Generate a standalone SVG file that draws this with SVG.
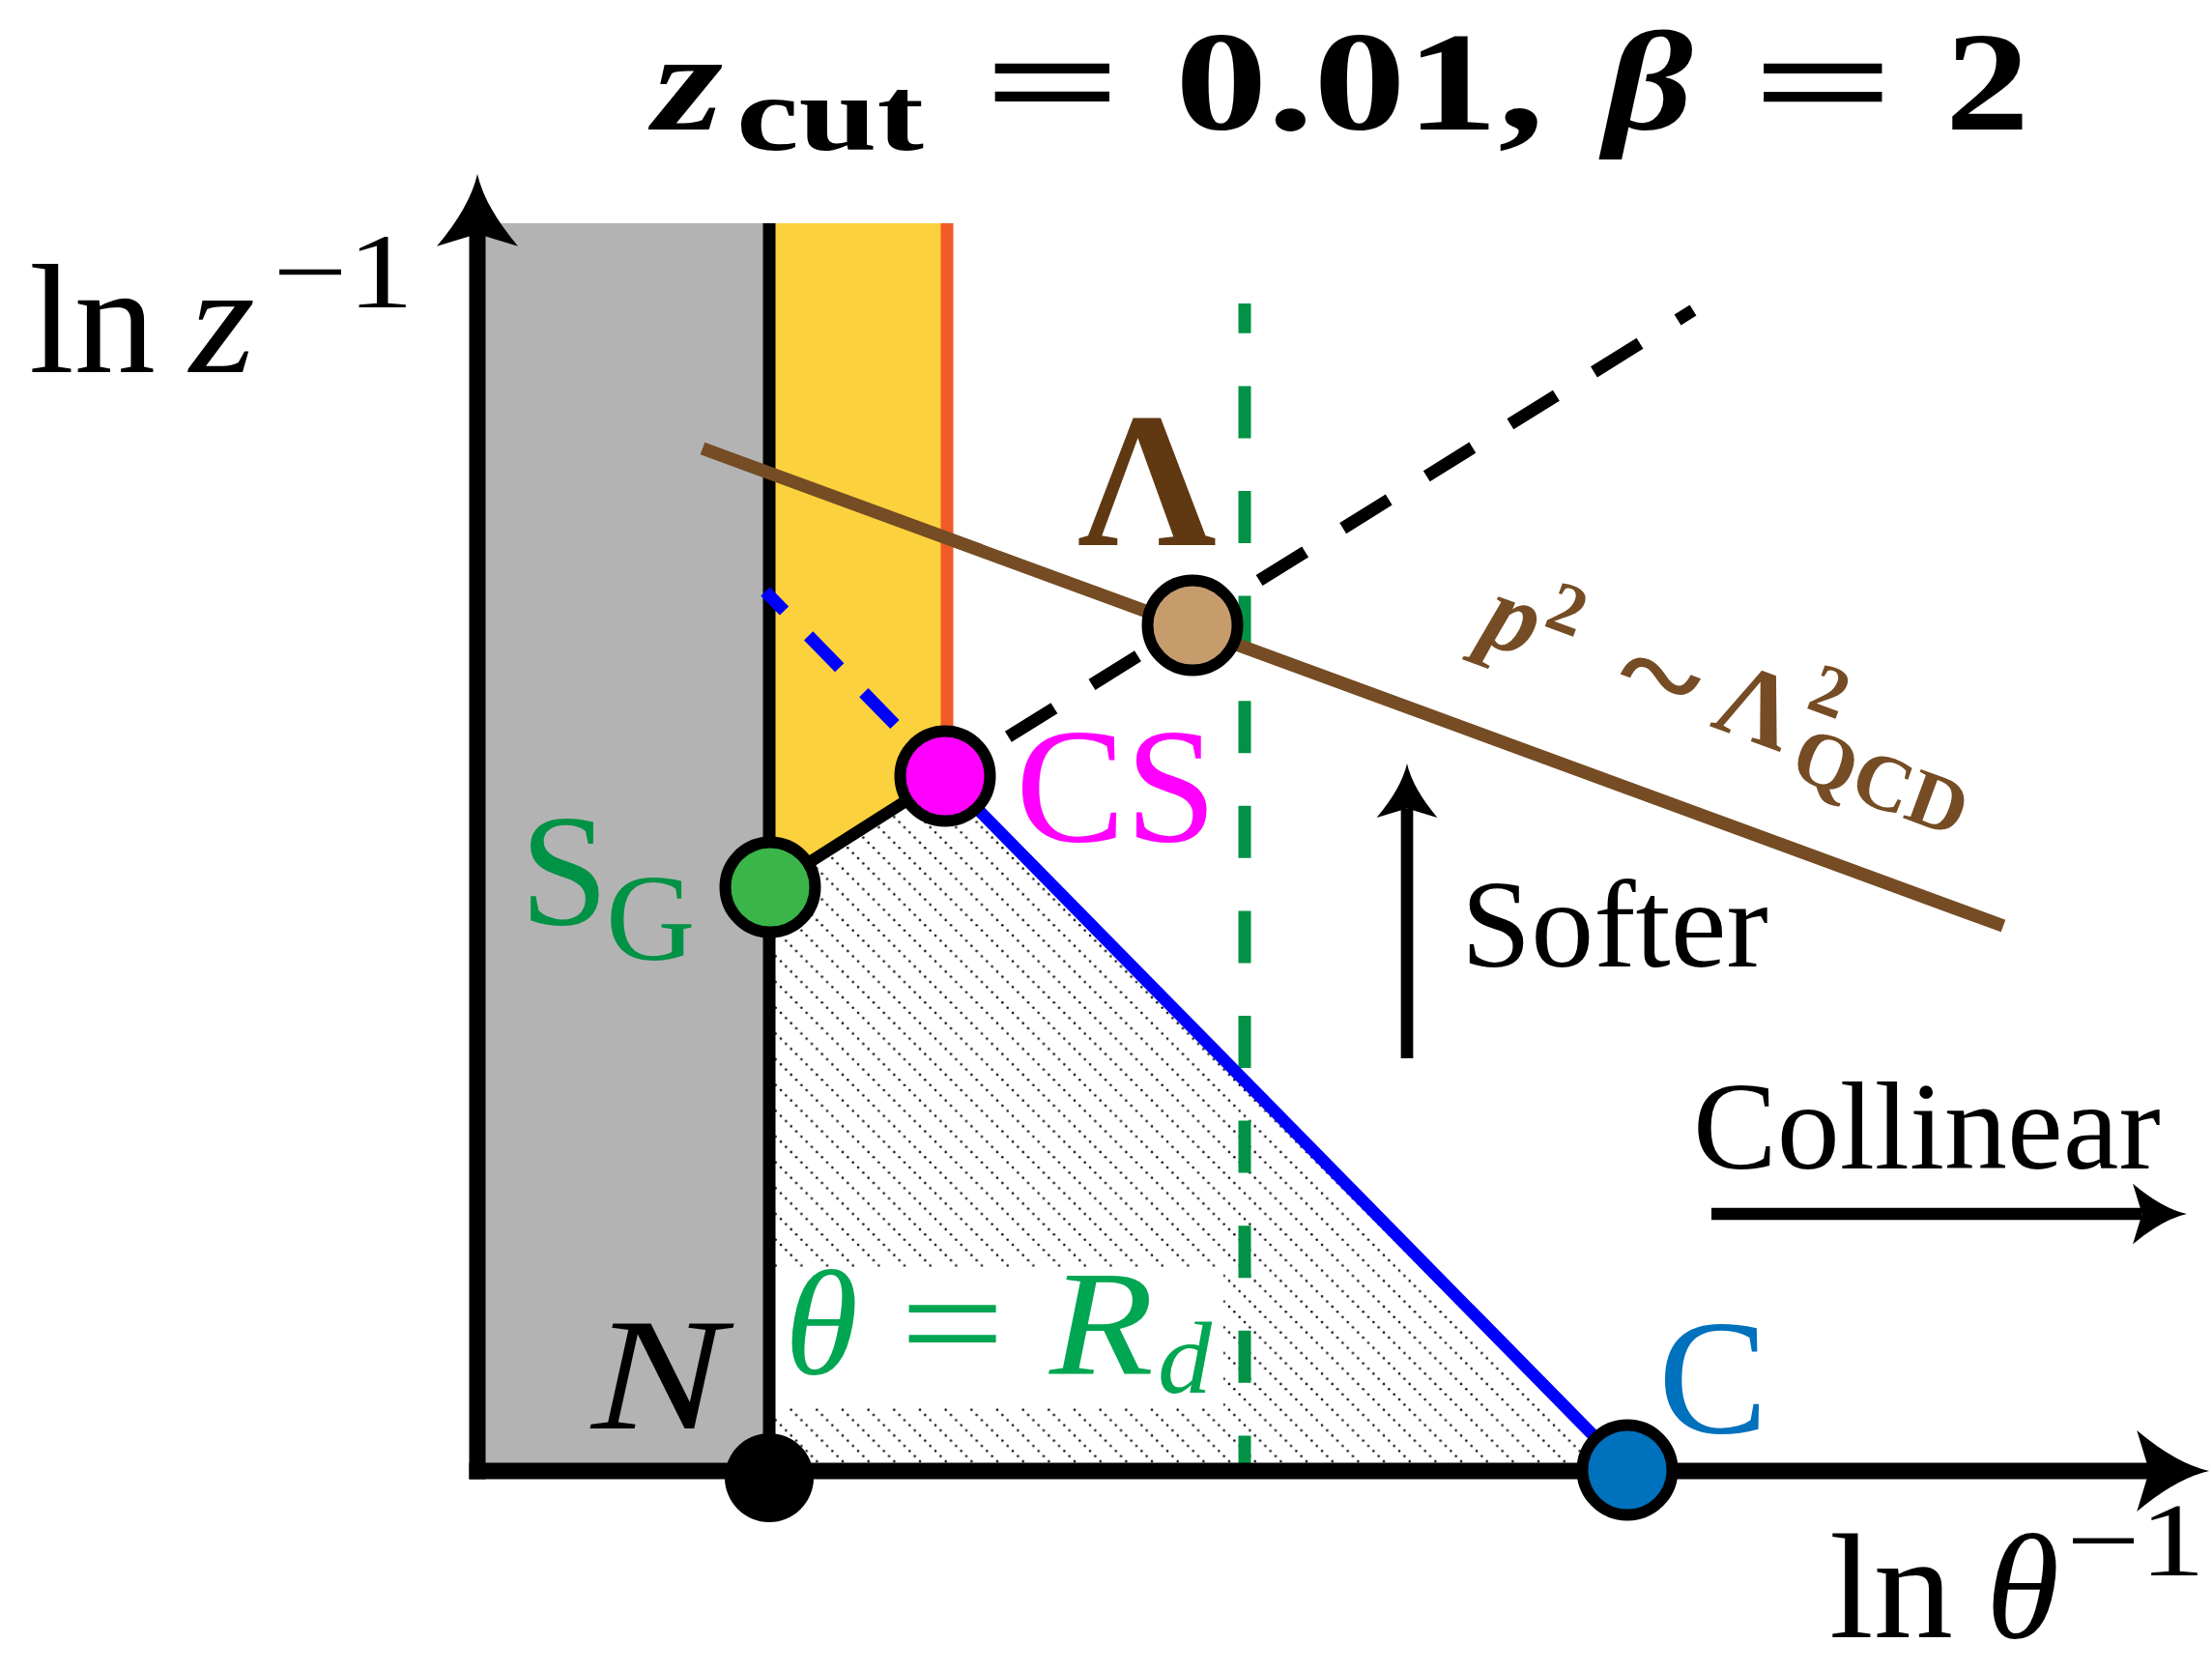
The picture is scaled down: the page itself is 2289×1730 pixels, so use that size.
<svg xmlns="http://www.w3.org/2000/svg" width="2289" height="1730" viewBox="0 0 2289 1730">
<defs>
<style>
text{font-family:"Liberation Serif","Times New Roman",serif;}
.it{font-style:italic}
.bf{font-weight:bold}
.node{stroke:#000;stroke-width:12}
.ax{stroke:#000;stroke-width:17;fill:none}
.arr{stroke:#000;stroke-width:12.7;fill:none}
</style>
<marker id="head" markerUnits="strokeWidth" viewBox="0 -2.6 4.5 5.2" refX="0.75" refY="0" markerWidth="4.5" markerHeight="5.2" orient="auto">
<path d="M4.4,0 Q2.4,-0.45 0,-2.47 L0.75,0 L0,2.47 Q2.4,0.45 4.4,0 Z" fill="#000"/>
</marker>
<pattern id="hatch" patternUnits="userSpaceOnUse" width="26.667" height="26.667">
<circle cx="2.67" cy="2.67" r="1.3" fill="#111"/>
<circle cx="8" cy="8" r="1.3" fill="#111"/>
<circle cx="13.33" cy="13.33" r="1.3" fill="#111"/>
<circle cx="18.67" cy="18.67" r="1.3" fill="#111"/>
<circle cx="24" cy="24" r="1.3" fill="#111"/>
</pattern>
</defs>
<rect width="2289" height="1730" fill="#fff"/>

<g id="regions">
<rect x="494" y="231" width="302" height="1291" fill="#B3B3B3"/>
<polygon points="796,231 980,231 980,803 796,918" fill="#FBD13D"/>
<polygon points="802,918 978,803 1684,1521 802,1521" fill="url(#hatch)"/>
<rect x="802" y="1312" width="464" height="143" fill="#fff"/>
</g>

<g id="connectors">
<line x1="980" y1="231" x2="980" y2="803" stroke="#F15A29" stroke-width="13"/>
<line x1="796" y1="231" x2="796" y2="1522" stroke="#000" stroke-width="13"/>
<line x1="1288" y1="314" x2="1288" y2="1516" stroke="#009245" stroke-width="13" stroke-dasharray="54 54.6" stroke-dashoffset="23.2"/>
<line x1="727" y1="464" x2="2073" y2="958" stroke="#754C24" stroke-width="13.5"/>
<line x1="792" y1="612" x2="978" y2="803" stroke="#0000FF" stroke-width="13" stroke-dasharray="46 36" stroke-dashoffset="18"/>
<line x1="978" y1="803" x2="1752" y2="321" stroke="#000" stroke-width="13" stroke-dasharray="56 46" stroke-dashoffset="25"/>
<line x1="978" y1="803" x2="1684" y2="1521" stroke="#0000FF" stroke-width="12.5"/>
<line x1="797" y1="918" x2="978" y2="803" stroke="#000" stroke-width="12.5"/>
<line class="ax" x1="494" y1="1530.5" x2="494" y2="242" marker-end="url(#head)"/>
<line class="ax" x1="485.5" y1="1522" x2="2224" y2="1522" marker-end="url(#head)"/>
<line class="arr" x1="1456" y1="1095" x2="1456" y2="836.4" marker-end="url(#head)"/>
<line class="arr" x1="1771" y1="1256" x2="2216.6" y2="1256" marker-end="url(#head)"/>
</g>

<g id="node-N">
<circle cx="796" cy="1529" r="46" fill="#000"/>
<text x="612" y="1478" font-size="165" class="it" textLength="138" lengthAdjust="spacingAndGlyphs">N</text>
</g>
<g id="node-SG">
<circle class="node" cx="797" cy="918" r="46.5" fill="#39B54A"/>
<text x="538" y="956" font-size="165" fill="#009245">S</text>
<text x="627" y="993" font-size="128" fill="#009245">G</text>
</g>
<g id="node-CS">
<circle class="node" cx="978" cy="803" r="46.5" fill="#FF00FF"/>
<text x="1051" y="870" font-size="170" fill="#FF00FF">CS</text>
</g>
<g id="node-Lambda">
<circle class="node" cx="1234" cy="647" r="46.5" fill="#C69C6D"/>
<text x="1187" y="564" font-size="200" class="bf" text-anchor="middle" fill="#603913">Λ</text>
</g>
<g id="node-C">
<circle class="node" cx="1684" cy="1521" r="46.5" fill="#0071BC"/>
<text x="1716" y="1482" font-size="170" fill="#0071BC">C</text>
</g>

<g id="labels">
<g class="bf" font-size="146">
<text x="676" y="134" class="it" textLength="72" lengthAdjust="spacingAndGlyphs">z</text>
<text x="762" y="155" font-size="110" textLength="194" lengthAdjust="spacingAndGlyphs">cut</text>
<text x="1017" y="134" textLength="145" lengthAdjust="spacingAndGlyphs">=</text>
<text x="1216" y="134" textLength="382" lengthAdjust="spacingAndGlyphs">0.01,</text>
<text x="1660" y="134" class="it" textLength="92" lengthAdjust="spacingAndGlyphs">β</text>
<text x="1812" y="134" textLength="150" lengthAdjust="spacingAndGlyphs">=</text>
<text x="2013" y="134" textLength="87" lengthAdjust="spacingAndGlyphs">2</text>
</g>
<text x="30" y="385" font-size="162" textLength="131" lengthAdjust="spacingAndGlyphs">ln</text>
<text x="196" y="385" font-size="160" class="it" textLength="68" lengthAdjust="spacingAndGlyphs">z</text>
<text x="282" y="318" font-size="110" textLength="146" lengthAdjust="spacingAndGlyphs">−1</text>
<text x="1893" y="1694" font-size="155" textLength="128" lengthAdjust="spacingAndGlyphs">ln</text>
<text x="2055" y="1694" font-size="155" class="it">θ</text>
<text x="2138" y="1630" font-size="108" textLength="144" lengthAdjust="spacingAndGlyphs">−1</text>
<g fill="#00A651">
<text x="812" y="1421" font-size="155" class="it">θ</text>
<text x="931" y="1421" font-size="155" textLength="109" lengthAdjust="spacingAndGlyphs">=</text>
<text x="1086" y="1421" font-size="155" class="it" textLength="108" lengthAdjust="spacingAndGlyphs">R</text>
<text x="1198" y="1441" font-size="105" class="it" textLength="56" lengthAdjust="spacingAndGlyphs">d</text>
</g>
<text x="1512" y="1000" font-size="130">Softer</text>
<text x="1752" y="1209" font-size="130">Collinear</text>
<g transform="translate(1558,663) rotate(20.2)" fill="#754C24" class="bf">
<text x="-28" y="10" font-size="110" class="it">p</text>
<text x="30" y="-28" font-size="75">2</text>
<text x="122" y="22" font-size="130" textLength="82" lengthAdjust="spacingAndGlyphs">~</text>
<text x="228" y="10" font-size="110">Λ</text>
<text x="314" y="-42" font-size="75">2</text>
<text x="322" y="30" font-size="82" textLength="186" lengthAdjust="spacingAndGlyphs">QCD</text>
</g>
</g>
</svg>
